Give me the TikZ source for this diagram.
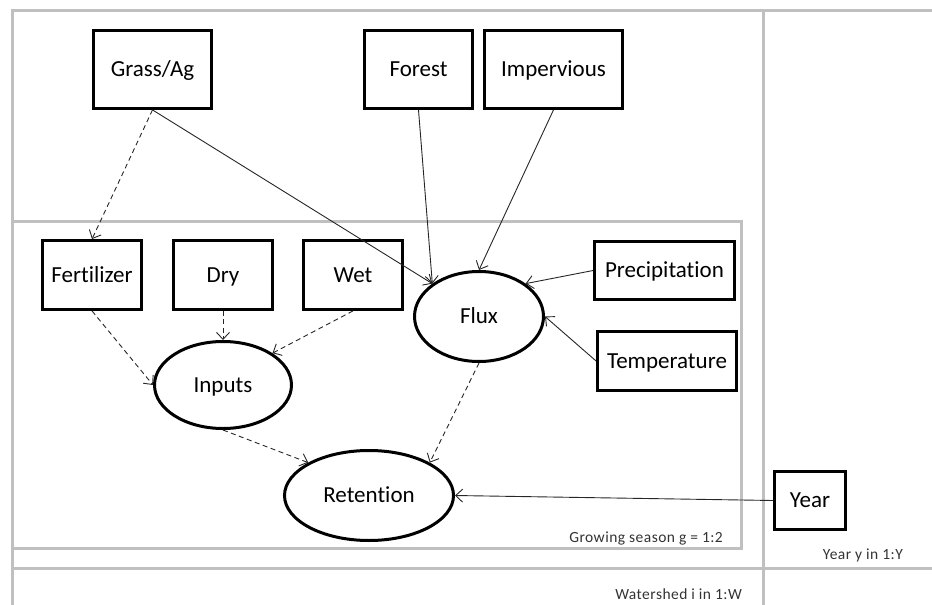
\documentclass[tikz,border=0pt]{standalone}
\usepackage{fontspec}
\setmainfont{Carlito}[Ligatures={NoCommon}]
\usetikzlibrary{arrows.meta,shapes.geometric}
\definecolor{framegray}{RGB}{192,192,192}
\begin{document}
\begin{tikzpicture}[x=1pt,y=-1pt,
  box/.style={draw, line width=2.8pt, inner sep=0pt, font=\fontsize{23}{26}\selectfont, text height=14.8pt, text depth=0pt},
  ell/.style={draw, ellipse, line width=3pt, inner sep=0pt, font=\fontsize{23}{26}\selectfont, text height=14.8pt, text depth=0pt},
  frame/.style={draw=framegray, line width=3pt},
  arr/.style={-{Straight Barb[length=7pt,width=13pt]}, line width=0.9pt, draw=black!85},
  dsh/.style={arr, dash pattern=on 5pt off 3.5pt},
  lbl/.style={font=\fontsize{15.5}{18}\selectfont\addfontfeature{LetterSpace=3}, inner sep=0pt, text=black!80, anchor=base east}]
\useasboundingbox (0,0) rectangle (932,605);
% plates
\draw[frame] (12,605) -- (12,10) -- (932,10);
\draw[frame] (763,10) -- (763,605);
\draw[frame] (12,568) -- (932,568);
\draw[frame] (12,221) -- (741,221) -- (741,548) -- (12,548);
\node[lbl] (lg) at (723,542) {Growing season g = 1:2};
\node[lbl] (ly) at (903,559) {Year y in 1:Y};
\node[lbl] (lw) at (742,599) {Watershed i in 1:W};
% boxes
\node[box, minimum width=118, minimum height=78] (grass) at (152.5,69.5) {Grass/Ag};
\node[box, minimum width=108, minimum height=78] (forest) at (418.5,69.5) {Forest};
\node[box, minimum width=138, minimum height=78] (imperv) at (553.5,69.5) {Impervious};
\node[box, minimum width=99, minimum height=69] (fert) at (92,275) {Fertilizer};
\node[box, minimum width=99, minimum height=69] (dry) at (223,275) {Dry};
\node[box, minimum width=99, minimum height=69] (wet) at (353,275) {Wet};
\node[box, minimum width=140, minimum height=58] (precip) at (664.5,270.5) {Precipitation};
\node[box, minimum width=139, minimum height=59] (temp) at (667,361) {Temperature};
\node[box, minimum width=71, minimum height=58] (year) at (810,500.5) {Year};
% ellipses
\node[ell, minimum width=129, minimum height=90] (flux) at (479,316.5) {Flux};
\node[ell, minimum width=137, minimum height=87] (inputs) at (223,385) {Inputs};
\node[ell, minimum width=169, minimum height=90] (ret) at (369,495.5) {Retention};
% connectors
\draw[dsh] (grass.south) -- (fert.north);
\draw[arr] (grass.south) -- (flux.north west);
\draw[arr] (forest.south) -- (flux.north west);
\draw[arr] (imperv.south) -- (flux.north);
\draw[arr] (precip.west) -- (flux.north east);
\draw[arr] (temp.west) -- (flux.east);
\draw[dsh] (fert.south) -- (inputs.west);
\draw[dsh] (dry.south) -- (inputs.north);
\draw[dsh] (wet.south) -- (inputs.north east);
\draw[dsh] (inputs.south) -- (ret.north west);
\draw[dsh] (flux.south) -- (ret.north east);
\draw[arr] (year.west) -- (ret.east);
\end{tikzpicture}
\end{document}
